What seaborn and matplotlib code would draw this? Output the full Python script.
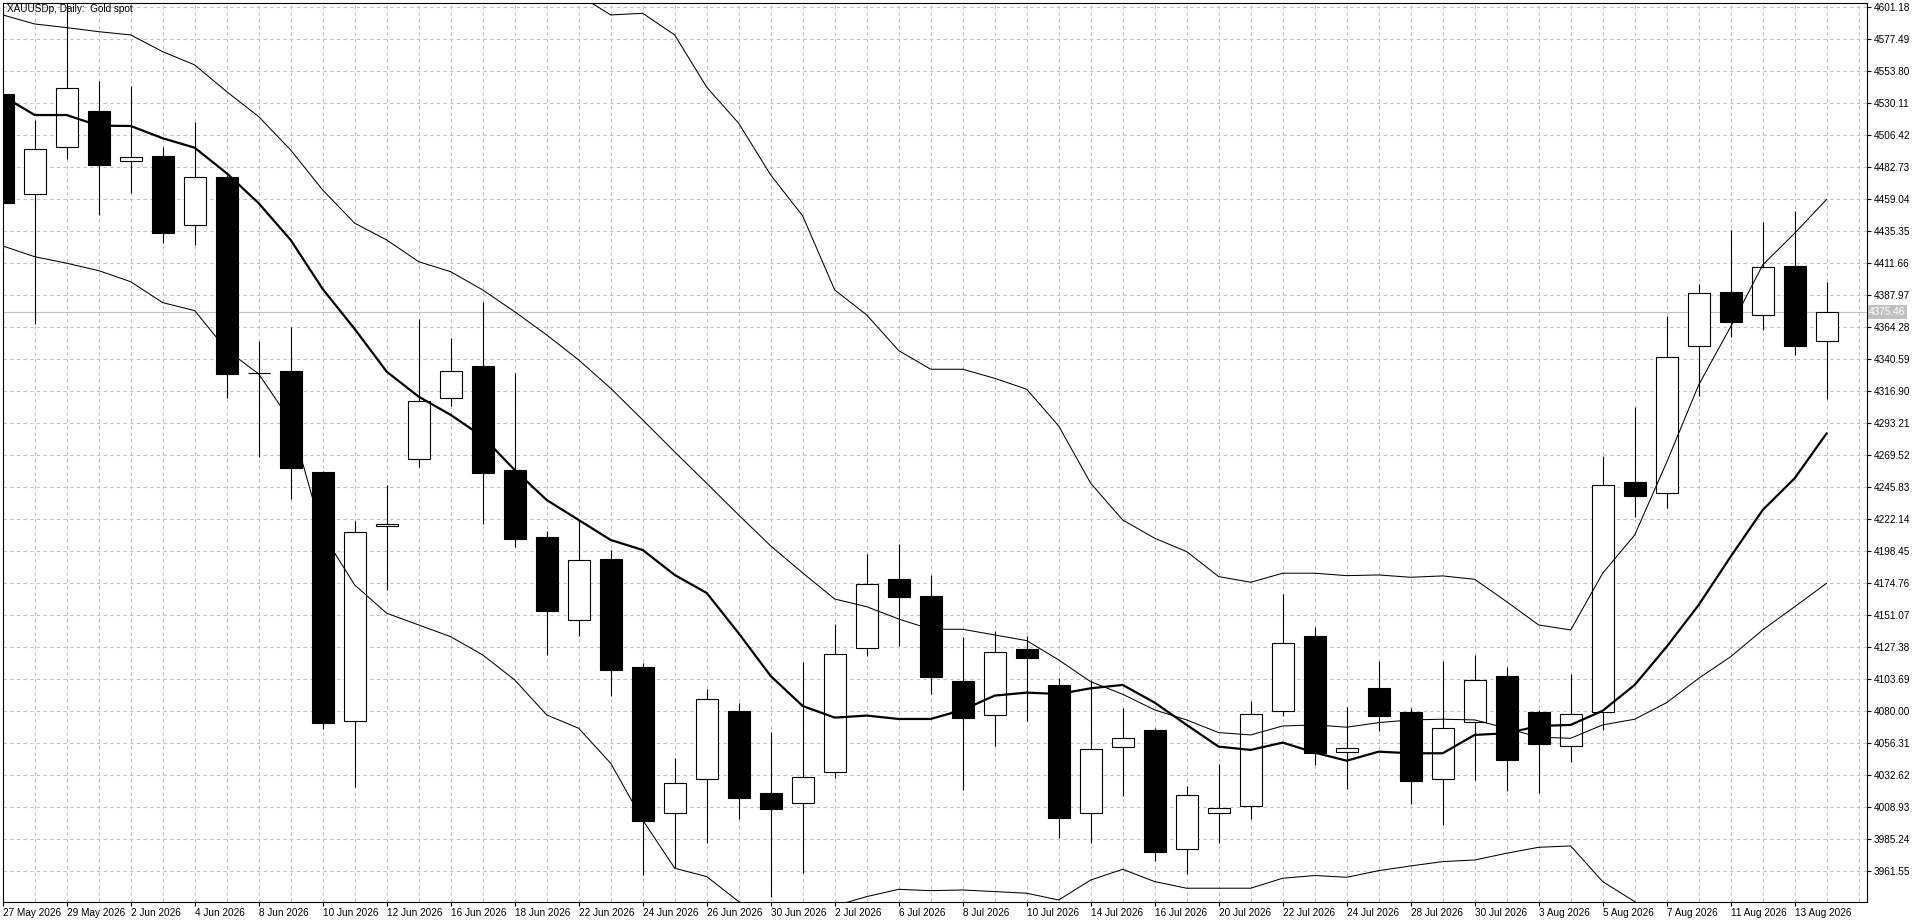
import numpy as np
import pandas as pd
import matplotlib
matplotlib.use("Agg")
import matplotlib.pyplot as plt
import matplotlib.transforms as mtransforms
import seaborn as sns

# daily bars
dates = [
    "27 May 2026", "28 May 2026", "29 May 2026", "1 Jun 2026", "2 Jun 2026", "3 Jun 2026",
    "4 Jun 2026", "5 Jun 2026", "8 Jun 2026", "9 Jun 2026", "10 Jun 2026", "11 Jun 2026",
    "12 Jun 2026", "15 Jun 2026", "16 Jun 2026", "17 Jun 2026", "18 Jun 2026", "19 Jun 2026",
    "22 Jun 2026", "23 Jun 2026", "24 Jun 2026", "25 Jun 2026", "26 Jun 2026", "29 Jun 2026",
    "30 Jun 2026", "1 Jul 2026", "2 Jul 2026", "3 Jul 2026", "6 Jul 2026", "7 Jul 2026",
    "8 Jul 2026", "9 Jul 2026", "10 Jul 2026", "13 Jul 2026", "14 Jul 2026", "15 Jul 2026",
    "16 Jul 2026", "17 Jul 2026", "20 Jul 2026", "21 Jul 2026", "22 Jul 2026", "23 Jul 2026",
    "24 Jul 2026", "27 Jul 2026", "28 Jul 2026", "29 Jul 2026", "30 Jul 2026", "31 Jul 2026",
    "3 Aug 2026", "4 Aug 2026", "5 Aug 2026", "6 Aug 2026", "7 Aug 2026", "10 Aug 2026",
    "11 Aug 2026", "12 Aug 2026", "13 Aug 2026", "14 Aug 2026",
]

opens = [
    4536.8, 4462.8, 4497.5, 4524.2, 4487.2, 4490.9, 4439.8, 4475.5, 4330.0, 4331.7,
    4257.0, 4072.4, 4216.8, 4266.4, 4311.5, 4335.4, 4258.4, 4208.8, 4147.2, 4192.6,
    4112.6, 4004.3, 4029.5, 4080.3, 4019.1, 4011.7, 4034.9, 4126.4, 4177.5, 4165.2,
    4102.2, 4076.8, 4125.9, 4099.3, 4004.3, 4053.2, 4066.0, 3977.7, 4004.3, 4009.5,
    4079.8, 4135.6, 4049.9, 4097.1, 4079.1, 4029.5, 4071.7, 4105.9, 4079.3, 4053.9,
    4079.1, 4249.6, 4241.2, 4350.0, 4390.2, 4373.0, 4409.5, 4353.7,
]
highs = [
    4540.5, 4517.5, 4612.0, 4546.4, 4542.7, 4497.6, 4516.1, 4477.0, 4353.9, 4364.3,
    4258.0, 4220.7, 4247.3, 4370.2, 4356.2, 4383.0, 4330.0, 4213.3, 4221.4, 4199.2,
    4115.3, 4045.0, 4096.5, 4085.7, 4064.7, 4116.1, 4144.4, 4196.0, 4203.7, 4180.7,
    4134.8, 4139.3, 4135.6, 4104.2, 4103.0, 4082.0, 4067.2, 4024.5, 4040.8, 4087.4,
    4166.9, 4142.4, 4083.2, 4117.0, 4082.0, 4117.0, 4121.5, 4112.6, 4080.8, 4107.4,
    4268.8, 4305.3, 4372.7, 4396.1, 4436.1, 4442.3, 4450.2, 4397.6,
]
lows = [
    4452.0, 4366.2, 4488.7, 4447.2, 4463.5, 4426.5, 4425.0, 4311.7, 4268.0, 4237.0,
    4066.5, 4024.0, 4169.6, 4260.9, 4305.8, 4218.5, 4201.7, 4121.5, 4135.8, 4091.1,
    3958.6, 3963.6, 3982.5, 4000.1, 3942.6, 3959.9, 4030.7, 4121.0, 4128.2, 4092.6,
    4021.5, 4054.3, 4072.6, 3986.2, 3982.5, 4017.1, 3969.0, 3959.4, 3982.5, 4000.1,
    4076.6, 4040.1, 4022.1, 4065.4, 4011.2, 3995.6, 4028.9, 4021.0, 4019.6, 4042.5,
    4066.0, 4223.9, 4230.1, 4313.4, 4357.1, 4362.1, 4343.8, 4311.0,
]
closes = [
    4456.1, 4496.1, 4541.2, 4484.2, 4490.2, 4433.9, 4475.3, 4329.5, 4330.4, 4259.9,
    4071.4, 4212.3, 4218.7, 4309.5, 4331.5, 4256.4, 4207.6, 4154.3, 4191.6, 4110.6,
    3998.8, 4026.5, 4088.7, 4015.8, 4007.3, 4030.9, 4122.0, 4173.8, 4164.7, 4105.4,
    4075.1, 4123.5, 4119.5, 4001.0, 4051.7, 4059.8, 3975.9, 4017.6, 4008.0, 4077.6,
    4130.2, 4049.2, 4052.9, 4076.6, 4028.4, 4067.2, 4103.0, 4043.8, 4055.4, 4077.6,
    4247.1, 4239.4, 4341.9, 4389.3, 4368.2, 4408.5, 4350.5, 4375.46,
]

# indicator lines (thick fast MA + Bollinger bands)
ma_fast = [
    4535.3, 4521.2, 4521.2, 4513.3, 4513.1, 4504.0, 4497.0, 4478.1, 4455.9, 4428.7,
    4392.4, 4362.8, 4331.2, 4312.7, 4299.2, 4283.1, 4258.4, 4236.2, 4221.4, 4206.6,
    4199.2, 4180.7, 4167.4, 4137.5, 4105.9, 4083.7, 4075.1, 4076.6, 4074.1, 4074.1,
    4080.8, 4091.4, 4093.6, 4092.6, 4096.8, 4099.3, 4086.2, 4069.7, 4053.6, 4051.2,
    4056.6, 4049.2, 4043.2, 4049.9, 4048.7, 4048.7, 4062.3, 4063.5, 4068.9, 4069.7,
    4080.2, 4099.3, 4127.6, 4158.5, 4194.3, 4228.8, 4252.3, 4285.6,
]
bb_mid = [
    4595.3, 4588.6, 4585.9, 4582.9, 4580.5, 4568.1, 4558.3, 4538.5, 4520.0, 4495.3,
    4465.7, 4441.1, 4428.7, 4412.6, 4405.2, 4391.7, 4375.6, 4358.4, 4339.9, 4318.9,
    4295.5, 4271.8, 4248.6, 4225.1, 4202.2, 4182.2, 4162.9, 4157.2, 4148.1, 4140.5,
    4140.5, 4136.3, 4132.1, 4117.8, 4101.7, 4092.4, 4080.8, 4073.4, 4064.0, 4062.3,
    4068.9, 4069.7, 4068.0, 4071.4, 4073.4, 4073.9, 4073.4, 4067.2, 4060.6, 4059.8,
    4069.7, 4073.9, 4086.2, 4104.2, 4120.2, 4140.0, 4157.2, 4174.6,
]
bb_upper = [
    4766.3, 4761.1, 4760.3, 4759.6, 4763.3, 4753.7, 4740.4, 4730.0, 4710.7, 4695.9,
    4720.4, 4708.5, 4704.8, 4681.9, 4675.2, 4661.9, 4648.6, 4639.7, 4610.1, 4595.3,
    4596.5, 4580.5, 4541.8, 4515.1, 4476.8, 4446.5, 4391.7, 4373.2, 4346.8, 4333.0,
    4333.0, 4326.3, 4318.2, 4291.0, 4248.6, 4221.4, 4207.9, 4198.0, 4179.5, 4175.3,
    4182.0, 4182.0, 4180.2, 4180.7, 4179.0, 4180.0, 4177.5, 4160.9, 4143.7, 4140.0,
    4182.0, 4210.3, 4264.1, 4321.4, 4364.5, 4410.2, 4433.7, 4458.8,
]
bb_lower = [
    4424.3, 4416.3, 4411.5, 4406.0, 4397.8, 4382.3, 4376.4, 4347.3, 4329.5, 4294.7,
    4211.1, 4173.3, 4152.4, 4143.7, 4135.0, 4121.5, 4103.0, 4077.1, 4067.2, 4041.3,
    3999.3, 3963.6, 3957.4, 3938.9, 3929.0, 3926.8, 3935.7, 3942.6, 3948.0, 3947.0,
    3947.5, 3946.3, 3945.1, 3940.1, 3954.9, 3962.8, 3953.7, 3948.8, 3948.8, 3948.8,
    3956.2, 3958.2, 3956.9, 3961.8, 3965.3, 3968.5, 3969.7, 3974.7, 3979.1, 3980.1,
    3953.7, 3938.9, 3908.3, 3886.8, 3875.7, 3869.8, 3880.9, 3890.5,
]

price_ticks = [
    "4601.18", "4577.49", "4553.80", "4530.11", "4506.42", "4482.73", "4459.04",
    "4435.35", "4411.66", "4387.97", "4364.28", "4340.59", "4316.90", "4293.21",
    "4269.52", "4245.83", "4222.14", "4198.45", "4174.76", "4151.07", "4127.38",
    "4103.69", "4080.00", "4056.31", "4032.62", "4008.93", "3985.24", "3961.55",
]
last_price = 4375.46
title = "XAUUSDp, Daily:  Gold spot"

df = pd.DataFrame({
    "x": np.arange(len(dates)),
    "open": opens, "high": highs, "low": lows, "close": closes,
    "ma": ma_fast, "mid": bb_mid, "upper": bb_upper, "lower": bb_lower,
})

sns.set_theme(style="white")
plt.rcParams["font.family"] = ["Liberation Sans", "DejaVu Sans"]

fig = plt.figure(figsize=(19.2, 9.23), dpi=100)
ax = fig.add_axes([2.5 / 1920, 21 / 923, 1864.5 / 1920, 899.5 / 923])

grid_kw = dict(color="#c0c0c0", linestyle=(0, (3, 3)), linewidth=0.8)
fs = 7.2

# candles
bull = df["close"] >= df["open"]
ax.vlines(df["x"], df["low"], df["high"], color="black", linewidth=0.8, zorder=2)
ax.bar(
    df["x"],
    (df["close"] - df["open"]).abs(),
    bottom=np.minimum(df["open"], df["close"]),
    width=0.69,
    color=np.where(bull, "white", "black"),
    edgecolor="black",
    linewidth=0.8,
    zorder=3,
)

# indicators
for col, lw in [("upper", 0.75), ("mid", 0.75), ("lower", 0.75), ("ma", 1.6)]:
    sns.lineplot(data=df, x="x", y=col, color="black", linewidth=lw,
                 ax=ax, legend=False, zorder=4)

ax.axhline(last_price, color="#c0c0c0", linewidth=0.8, zorder=1.5)

ax.set_xlim(-0.006, 58.26)
ax.set_ylim(3938.6, 4604.5)

ax.set_xticks(df["x"][::2])
ax.set_xticklabels([dates[i] for i in df["x"][::2]], ha="left")
ax.set_xticks(np.arange(len(dates) + 1), minor=True)
ax.yaxis.tick_right()
ax.set_yticks([float(s) for s in price_ticks])
ax.set_yticklabels(price_ticks)

ax.tick_params(axis="x", which="major", bottom=True, length=3, width=0.8,
               direction="out", pad=1.5, labelsize=fs, colors="black")
ax.tick_params(axis="x", which="minor", length=0)
ax.tick_params(axis="y", right=True, left=False, labelright=True, labelleft=False,
               length=3, width=0.8, direction="out", pad=1.5, labelsize=fs,
               colors="black")

ax.grid(True, which="both", axis="x", **grid_kw)
ax.grid(True, which="major", axis="y", **grid_kw)
ax.set_axisbelow(True)
ax.set_xlabel("")
ax.set_ylabel("")

for sp in ax.spines.values():
    sp.set_visible(True)
    sp.set_color("black")
    sp.set_linewidth(0.8)

ax.text(0.0024, 0.998, title, transform=ax.transAxes, ha="left", va="top",
        fontsize=fs, color="black", zorder=6)

trans = mtransforms.blended_transform_factory(ax.transAxes, ax.transData)
ax.text(1.0012, last_price, f"{last_price:.2f}", transform=trans, ha="left",
        va="center", fontsize=fs, color="white", zorder=6,
        bbox=dict(facecolor="#c0c0c0", edgecolor="none", pad=1.2))

fig.savefig("out.png", dpi=100)
